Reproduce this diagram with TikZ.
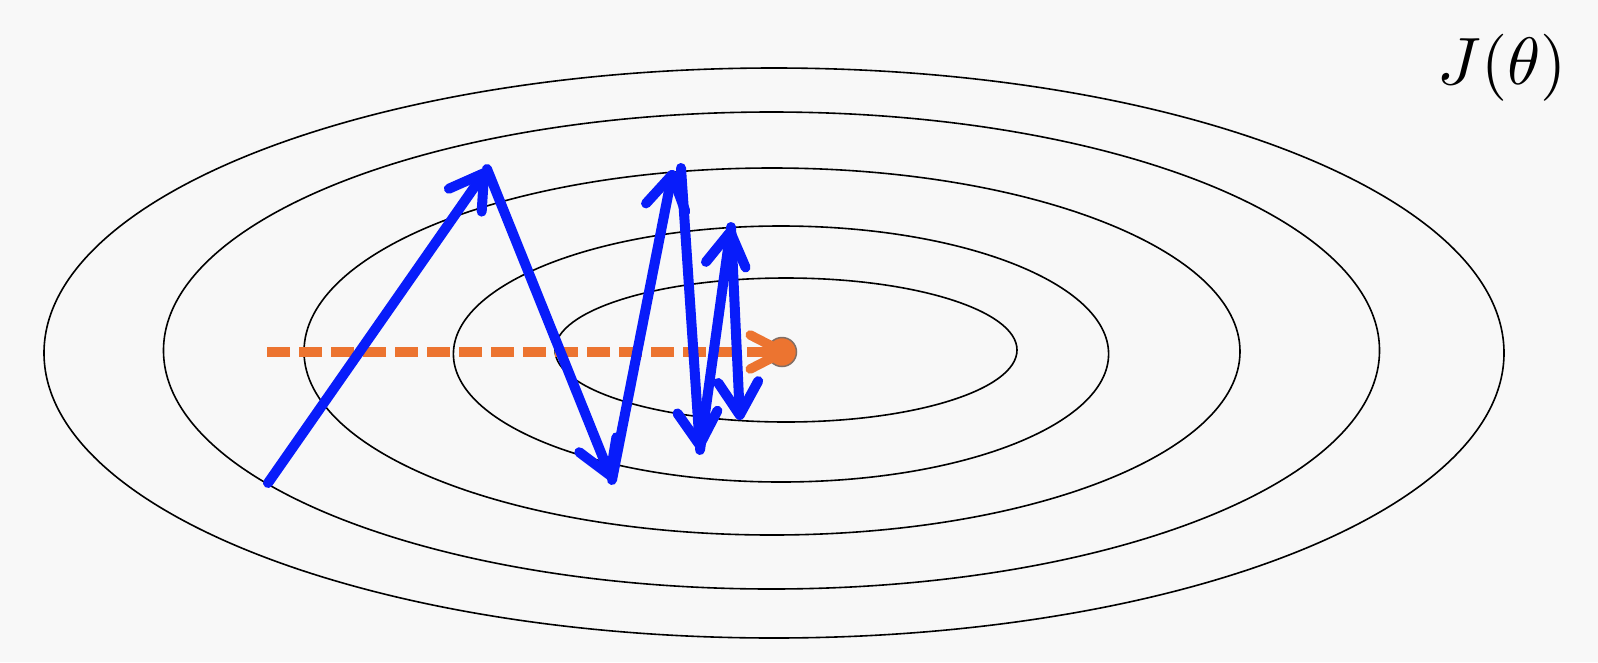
\documentclass[tikz,border=0pt]{standalone}
\usetikzlibrary{arrows.meta}
\definecolor{bgc}{RGB}{248,248,248}
\definecolor{bluearr}{RGB}{8,28,250}
\definecolor{orangearr}{RGB}{236,116,48}
\definecolor{dotedge}{RGB}{130,110,100}
\tikzset{
  contour/.style={draw=black, line width=1.6pt},
  bluestep/.style={draw=bluearr, line width=10pt, line cap=round,
    -{Straight Barb[length=33pt,width=40pt,line width=10pt,line cap=round,line join=round]}},
  orangestep/.style={draw=orangearr, line width=9.5pt, dash pattern=on 23pt off 9pt,
    -{Straight Barb[length=33pt,width=34pt,line width=9.5pt,line cap=round,line join=round]}},
  optdot/.style={circle, fill=orangearr, draw=dotedge, line width=1.5pt, minimum size=29pt, inner sep=0pt},
}
\begin{document}
\begin{tikzpicture}[x=1pt,y=-1pt]
\fill[bgc] (0,0) rectangle (1598,662);
\useasboundingbox (0,0) rectangle (1598,662);
% contours
\draw[contour] (774,353) ellipse [x radius=730pt, y radius=285pt];
\draw[contour] (771.5,350.5) ellipse [x radius=608pt, y radius=238.5pt];
\draw[contour] (772,351.5) ellipse [x radius=468pt, y radius=183.5pt];
\draw[contour] (781,354) ellipse [x radius=327.6pt, y radius=128pt];
\draw[contour] (786,350) ellipse [x radius=231pt, y radius=72pt];
% label
\node[scale=6.7] (J) at (1502,68) {$J(\theta)$};
% minimum
\node[optdot] (opt) at (782,352) {};
\coordinate (ostart) at (267,352);
\coordinate (oend) at (788,352);
\draw[orangestep] (ostart) -- (oend);
% gradient descent steps
\coordinate (p0) at (268,483);
\coordinate (p1) at (487,169);
\coordinate (p2) at (612,480);
\coordinate (p3) at (673,170);
\coordinate (p3b) at (681,168);
\coordinate (p4) at (700,450);
\coordinate (p5) at (731,227);
\coordinate (p6) at (740,420);
\draw[bluestep] (p0) -- (p1);
\draw[bluestep] (p1) -- (p2);
\draw[bluestep] (p2) -- (p3);
\draw[bluestep] (p3b) -- (p4);
\draw[bluestep] (p4) -- (p5);
\draw[bluestep] (p5) -- (p6);
\end{tikzpicture}
\end{document}
